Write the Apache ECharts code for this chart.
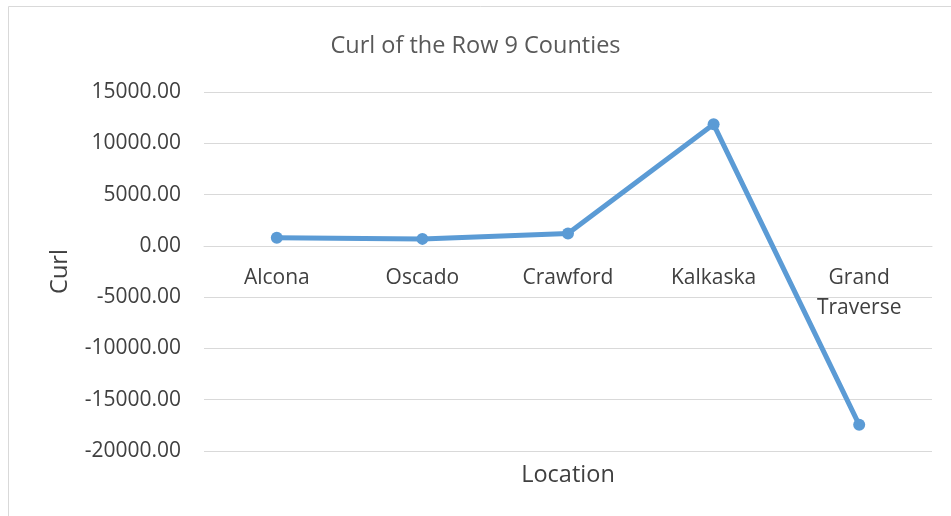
<!DOCTYPE html>
<html>
<head>
<meta charset="utf-8">
<title>Curl of the Row 9 Counties</title>
<script src="https://cdn.jsdelivr.net/npm/echarts@6/dist/echarts.min.js"></script>
<style>
    html, body { margin: 0; padding: 0; background: #fff; }
    #chart { width: 951px; height: 516px; }
</style>
</head>
<body>
<div id="chart"></div>
<script>
    // data
    var locations = ['Alcona', 'Oscado', 'Crawford', 'Kalkaska', 'Grand\nTraverse'];
    var curlValues = [780, 680, 1200, 11850, -17450];
    var yTicks = { min: -20000, max: 15000, step: 5000 };

    var fontFamily = '"Open Sans", "Noto Sans", sans-serif';
    var textColor = '#404040';
    var gridColor = '#d9d9d9';
    var lineColor = '#5b9bd5';

    // grid box in px; the category axis sits on the zero line
    var gridTop = 92, gridBottom = 65, chartH = 516;
    var zeroY = gridTop + (chartH - gridTop - gridBottom) * yTicks.max / (yTicks.max - yTicks.min);
    var xAxisOffset = -((chartH - gridBottom) - zeroY);

    var option = {
        animation: false,
        backgroundColor: '#fff',
        title: {
            text: 'Curl of the Row 9 Counties',
            left: 'center',
            top: 29,
            textStyle: { fontFamily: fontFamily, fontSize: 23.5, fontWeight: 'normal', color: '#595959' }
        },
        grid: { left: 204, right: 19, top: gridTop, bottom: gridBottom, outerBoundsMode: 'none' },
        graphic: [{
            type: 'rect',
            shape: { x: 8.5, y: 6.5, width: 1000, height: 600 },
            style: { fill: 'none', stroke: gridColor, lineWidth: 1 },
            silent: true
        }],
        xAxis: {
            type: 'category',
            data: locations,
            offset: xAxisOffset,
            name: 'Location',
            nameLocation: 'middle',
            nameGap: 217,
            nameTextStyle: { fontFamily: fontFamily, fontSize: 23.5, color: textColor },
            axisLine: { onZero: false, lineStyle: { color: gridColor, width: 1 } },
            axisTick: { show: false },
            axisLabel: {
                margin: 17,
                fontFamily: fontFamily,
                fontSize: 21,
                color: textColor,
                lineHeight: 30,
                verticalAlign: 'top'
            }
        },
        yAxis: {
            type: 'value',
            min: yTicks.min,
            max: yTicks.max,
            interval: yTicks.step,
            name: 'Curl',
            nameLocation: 'middle',
            nameRotate: 90,
            nameGap: 132,
            nameTextStyle: { fontFamily: fontFamily, fontSize: 23.5, color: textColor },
            axisLine: { show: false },
            axisTick: { show: false },
            splitLine: { lineStyle: { color: gridColor, width: 1 } },
            axisLabel: {
                margin: 23,
                fontFamily: fontFamily,
                fontSize: 21,
                color: textColor,
                formatter: function (v) { return v.toFixed(2); }
            }
        },
        series: [{
            type: 'line',
            data: curlValues,
            symbol: 'circle',
            symbolSize: 12,
            lineStyle: { color: lineColor, width: 5 },
            itemStyle: { color: lineColor }
        }]
    };

    var chart = echarts.init(document.getElementById('chart'));
    chart.setOption(option);
</script>
</body>
</html>
